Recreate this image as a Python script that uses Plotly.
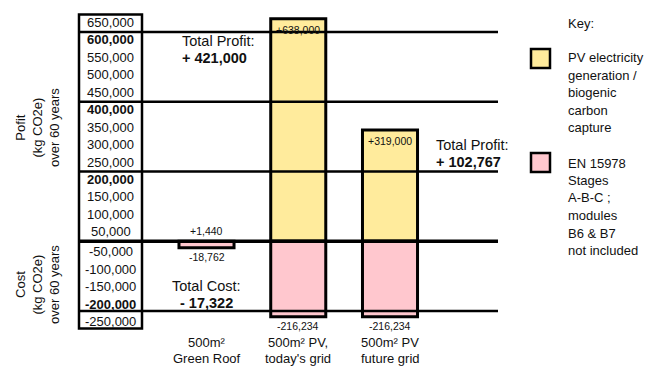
import plotly.graph_objects as go

# ---- data -------------------------------------------------------------
categories = ["500m²<br>Green Roof", "500m² PV,<br>today's grid", "500m² PV<br>future grid"]
profit = [1440, 638000, 319000]          # kg CO2e gained over 60 years
cost = [-18762, -216234, -216234]        # kg CO2e spent over 60 years (EN 15978 A-B-C)
totals = [-17322, 421000, 102767]        # stated net totals
scale_labels = [650000, 600000, 550000, 500000, 450000, 400000, 350000, 300000,
                250000, 200000, 150000, 100000, 50000,
                -50000, -100000, -150000, -200000, -250000]
bold_labels = [600000, 400000, 200000, -200000]
band_edges = [600000, 400000, 200000, 0, -200000]
key_profit = ["PV electricity", "generation /", "biogenic", "carbon", "capture"]
key_cost = ["EN 15978", "Stages", "A-B-C ;", "modules", "B6 & B7", "not included"]

# ---- layout constants -------------------------------------------------
W, H = 654, 367
M_T, M_B = 11, 35
Y_RANGE = [-260000, 660000]
X0_PX, UNIT_PX = 206.5, 91.75           # pixel centre of first category, px per category
X_RANGE = [-X0_PX / UNIT_PX, (W - X0_PX) / UNIT_PX]
YELLOW = "#FFEB9C"
PINK = "#FFC7CE"
INK = "#111111"
FONT = "Arial, 'Liberation Sans', sans-serif"


def xd(px):
    """pixel column -> x data coordinate"""
    return (px - X0_PX) / UNIT_PX


def yp(py):
    """pixel row -> paper y coordinate"""
    return (H - M_B - py) / (H - M_T - M_B)


xs = list(range(len(categories)))

fig = go.Figure()
fig.add_trace(go.Bar(
    x=xs, y=profit, width=0.6, hoverinfo="skip",
    marker=dict(color=YELLOW, line=dict(color="black", width=[0, 3, 3])),
))
fig.add_trace(go.Bar(
    x=xs, y=cost, width=0.6, hoverinfo="skip",
    marker=dict(color=PINK, line=dict(color="black", width=3)),
))

shapes = []
# horizontal band lines across the table, drawn over the bars
for v in band_edges:
    shapes.append(dict(type="line", xref="x", yref="y", x0=xd(79), x1=xd(498), y0=v, y1=v,
                       line=dict(color="black", width=3.5 if v == 0 else 2.5), layer="above"))
# scale column box
shapes.append(dict(type="rect", xref="x", yref="y", x0=xd(79), x1=xd(142),
                   y0=-250000, y1=650000, line=dict(color="black", width=2.5), layer="above"))
# key swatches
for (top, col) in [(49, YELLOW), (153, PINK)]:
    shapes.append(dict(type="rect", xref="paper", yref="paper", x0=531 / W, x1=550 / W,
                       y0=yp(top + 19), y1=yp(top), fillcolor=col,
                       line=dict(color="black", width=2.5), layer="above"))

ann = []
# scale labels inside the column
for v in scale_labels:
    txt = f"{v:,}"
    if v in bold_labels:
        txt = f"<b>{txt}</b>"
    ann.append(dict(x=xd(110.5), y=v, xref="x", yref="y", text=txt, showarrow=False,
                    xanchor="center", yanchor="middle", yshift=-8 if v > 0 else 7,
                    font=dict(size=13, color=INK)))

# value labels on the bars
for i, v in enumerate(profit):
    if i == 0:
        ann.append(dict(x=i, y=0, xref="x", yref="y", text=f"{v:+,}", showarrow=False,
                        yanchor="bottom", yshift=2, font=dict(size=10.5, color=INK)))
    else:
        ann.append(dict(x=i, y=v, xref="x", yref="y", text=f"{v:+,}", showarrow=False,
                        yanchor="top", yshift=-3, font=dict(size=10.5, color=INK)))
for i, v in enumerate(cost):
    ann.append(dict(x=i, y=v, xref="x", yref="y", text=f"{v:+,}", showarrow=False,
                    yanchor="top", yshift=-1, font=dict(size=10.5, color=INK)))

# net totals
total_pos = [  # (x pixel, anchor, first-line y pixel)
    (206, "center", 286),
    (180, "left", 41),
    (434, "left", 145),
]
for t, (px, anchor, py) in zip(totals, total_pos):
    head = "Total Profit:" if t > 0 else "Total Cost:"
    sign = "+" if t > 0 else "-"
    ann.append(dict(x=xd(px), y=yp(py), xref="x", yref="paper", text=head, showarrow=False,
                    xanchor=anchor, yanchor="middle", font=dict(size=14.5, color=INK)))
    ann.append(dict(x=xd(px), y=yp(py + 17), xref="x", yref="paper",
                    text=f"<b>{sign} {abs(t):,}</b>", showarrow=False,
                    xanchor=anchor, yanchor="middle", font=dict(size=14.5, color=INK)))

# category names under the columns
for i, c in enumerate(categories):
    for j, line in enumerate(c.split("<br>")):
        ann.append(dict(x=i, y=yp(343 + 15.5 * j), xref="x", yref="paper", text=line,
                        showarrow=False, xanchor="center", yanchor="middle",
                        font=dict(size=13, color=INK)))

# side titles
for title, py in [("Pofit<br>(kg CO2e)<br>over 60 years", 128),
                  ("Cost<br>(kg CO2e)<br>over 60 years", 285)]:
    ann.append(dict(x=37 / W, y=yp(py), xref="paper", yref="paper", text=title,
                    showarrow=False, textangle=-90, xanchor="center", yanchor="middle",
                    align="center", font=dict(size=13, color=INK)))

# key
ann.append(dict(x=566 / W, y=yp(23.5), xref="paper", yref="paper", text="Key:",
                showarrow=False, xanchor="left", yanchor="middle",
                font=dict(size=13, color=INK)))
for lines, y0 in [(key_profit, 57.5), (key_cost, 163)]:
    for j, line in enumerate(lines):
        ann.append(dict(x=566 / W, y=yp(y0 + 17.5 * j), xref="paper", yref="paper",
                        text=line, showarrow=False, xanchor="left", yanchor="middle",
                        font=dict(size=13, color=INK)))

fig.update_layout(
    width=W, height=H,
    margin=dict(l=0, r=0, t=M_T, b=M_B, pad=0),
    barmode="relative",
    showlegend=False,
    plot_bgcolor="white", paper_bgcolor="white",
    font=dict(family=FONT, color=INK),
    xaxis=dict(range=X_RANGE, visible=False, fixedrange=True),
    yaxis=dict(range=Y_RANGE, visible=False, fixedrange=True),
    shapes=shapes,
    annotations=ann,
)

fig.write_html("out.html")
